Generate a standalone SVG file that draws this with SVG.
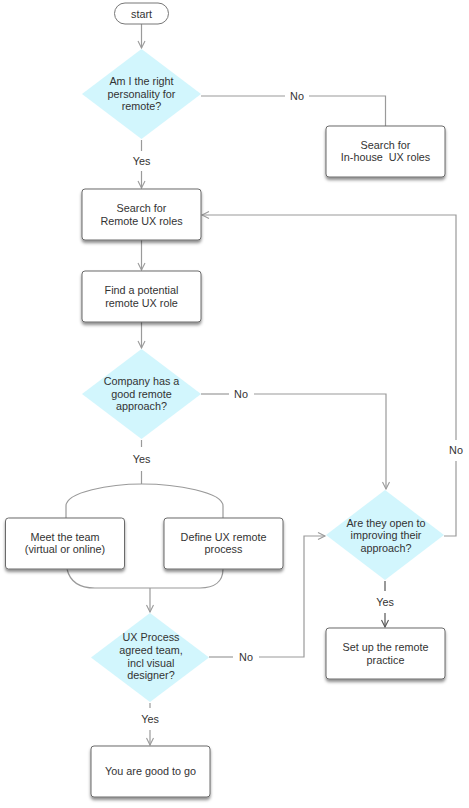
<svg xmlns="http://www.w3.org/2000/svg" width="469" height="808" viewBox="0 0 469 808">
<defs>
<style>
.box{fill:#fff;stroke:#6b6b6b;stroke-width:1;filter:url(#sh)}
.dia{fill:#d2f6fd;stroke:none}
.c{fill:none;stroke:#9a9a9a;stroke-width:1.2}
.cd{fill:none;stroke:#555;stroke-width:1.2}
text{font-family:"Liberation Sans",Arial,sans-serif;font-size:10.8px;fill:#333;text-anchor:middle;dominant-baseline:central;white-space:pre}
</style>
<filter id="sh" x="-20%" y="-20%" width="140%" height="160%">
<feDropShadow dx="0" dy="2.5" stdDeviation="1.6" flood-color="#000" flood-opacity="0.45"/>
</filter>
<marker id="ar" markerWidth="10" markerHeight="10" refX="8" refY="5" orient="auto" markerUnits="userSpaceOnUse">
<path d="M1,1.5 L8,5 L1,8.5" fill="none" stroke="#9a9a9a" stroke-width="1.1"/>
</marker>
<marker id="ard" markerWidth="10" markerHeight="10" refX="8" refY="5" orient="auto" markerUnits="userSpaceOnUse">
<path d="M1,1.5 L8,5 L1,8.5" fill="none" stroke="#555" stroke-width="1.1"/>
</marker>
</defs>
<rect width="469" height="808" fill="#fff"/>

<g id="connectors">
<path class="c" d="M141.5,24 V48" marker-end="url(#ar)"/>
<path class="c" d="M141.5,140 V151"/>
<text x="141.5" y="161">Yes</text>
<path class="c" d="M141.5,171 V188" marker-end="url(#ar)"/>
<path class="c" d="M201,96 H285"/>
<text x="297" y="96">No</text>
<path class="c" d="M309,96 H385.5 V126"/>
<path class="c" d="M141.5,240 V270" marker-end="url(#ar)"/>
<path class="c" d="M141.5,322 V348" marker-end="url(#ar)"/>
<path class="c" d="M201,394 H229"/>
<text x="241" y="394">No</text>
<path class="c" d="M254,394 H386 V489" marker-end="url(#ar)"/>
<path class="c" d="M141.5,440 V447"/>
<text x="141.5" y="459">Yes</text>
<path class="c" d="M141.5,471 V484"/>
<path class="c" d="M66,518 V506 C66,492 110,484 142,484 C176,484 223,492 223,506 V518"/>
<path class="c" d="M67,569 C70,582 80,588 95,588 H200 C214,588 223,582 223,569"/>
<path class="c" d="M150,588 V612" marker-end="url(#ar)"/>
<path class="c" d="M209,657 H233"/>
<text x="246" y="657">No</text>
<path class="c" d="M259,657 H304 V536 H325" marker-end="url(#ar)"/>
<path class="c" d="M150,703 V708"/>
<text x="150" y="719">Yes</text>
<path class="c" d="M150,730 V745" marker-end="url(#ar)"/>
<path class="cd" d="M385,581 V591"/>
<text x="385" y="602">Yes</text>
<path class="cd" d="M385,613 V627" marker-end="url(#ard)"/>
<path class="c" d="M444,536 H456 V461"/>
<text x="456" y="450">No</text>
<path class="c" d="M456,440 V215 H202" marker-end="url(#ar)"/>
</g>

<g id="start">
<rect x="114.5" y="3" width="54" height="21" rx="10.5" fill="#fff" stroke="#777"/>
<text x="141.5" y="13.5">start</text>
</g>

<g id="d1">
<polygon class="dia" points="141.5,49 201,94 141.5,139 82,94"/>
<text x="141.5" y="81">Am I the right</text>
<text x="141.5" y="94">personality for</text>
<text x="141.5" y="106">remote?</text>
</g>

<g id="inhouse">
<rect class="box" x="326" y="126" width="119" height="51" rx="3"/>
<text x="385.5" y="145">Search for</text>
<text x="385.5" y="157">In-house  UX roles</text>
</g>

<g id="remote">
<rect class="box" x="82" y="189" width="119" height="51" rx="3"/>
<text x="141.5" y="208">Search for</text>
<text x="141.5" y="221">Remote UX roles</text>
</g>

<g id="find">
<rect class="box" x="82" y="271" width="119" height="51" rx="3"/>
<text x="141.5" y="290">Find a potential</text>
<text x="141.5" y="303">remote UX role</text>
</g>

<g id="d2">
<polygon class="dia" points="141.5,349 201,394 141.5,439 82,394"/>
<text x="141.5" y="381">Company has a</text>
<text x="141.5" y="394">good remote</text>
<text x="141.5" y="406">approach?</text>
</g>

<g id="meet">
<rect class="box" x="5.5" y="518" width="119" height="51" rx="3"/>
<text x="65" y="537">Meet the team</text>
<text x="65" y="549">(virtual or online)</text>
</g>

<g id="define">
<rect class="box" x="164" y="518" width="119" height="51" rx="3"/>
<text x="223.5" y="537">Define UX remote</text>
<text x="223.5" y="549">process</text>
</g>

<g id="d3">
<polygon class="dia" points="385,490 444,535 385,580 326,535"/>
<text x="386" y="522.5">Are they open to</text>
<text x="386" y="535">improving their</text>
<text x="386" y="547.5">approach?</text>
</g>

<g id="setup">
<rect class="box" x="326" y="628" width="119" height="51" rx="3"/>
<text x="385.5" y="647">Set up the remote</text>
<text x="385.5" y="660">practice</text>
</g>

<g id="d4">
<polygon class="dia" points="150,613 209,657.5 150,702 91,657.5"/>
<text x="151" y="637">UX Process</text>
<text x="151" y="650">agreed team,</text>
<text x="151" y="663">incl visual</text>
<text x="151" y="675">designer?</text>
</g>

<g id="good">
<rect class="box" x="91" y="746" width="119" height="51" rx="3"/>
<text x="150.5" y="771">You are good to go</text>
</g>
</svg>
